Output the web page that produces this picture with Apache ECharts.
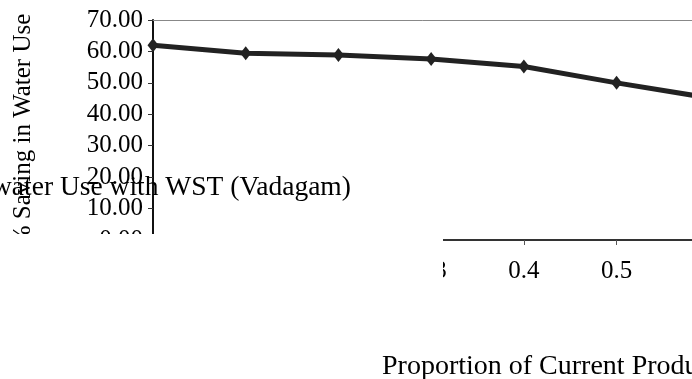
<!DOCTYPE html>
<html>
<head>
<meta charset="utf-8">
<script src="https://cdn.jsdelivr.net/npm/echarts@6/dist/echarts.min.js"></script>
<style>
  html, body { margin: 0; padding: 0; background: #fff; }
  #chart { width: 692px; height: 379px; }
</style>
</head>
<body>
<div id="chart"></div>
<script>
// Proportion of current production (x) and % saving in water use (y)
const proportions = [0, 0.1, 0.2, 0.3, 0.4, 0.5, 0.6];
const savingPct = [62.0, 59.4, 58.9, 57.6, 55.2, 50.0, 45.2];

const titleText = 'water Use with WST (Vadagam)';
const xAxisTitle = 'Proportion of Current Production';
const yAxisTitle = '% Saving in Water Use';

const serif = '"Liberation Serif", "DejaVu Serif", serif';

const chart = echarts.init(document.getElementById('chart'), null, { renderer: 'canvas' });

chart.setOption({
  animation: false,
  backgroundColor: '#fff',
  title: {
    text: titleText,
    left: -8,
    top: 174,
    padding: 0,
    textStyle: { fontFamily: serif, fontSize: 27.5, fontWeight: 'normal', color: '#000' }
  },
  grid: {
    left: 153, top: 20, right: -110, bottom: 139,
    containLabel: false,
    outerBoundsMode: 'none'
  },
  xAxis: [
    {
      type: 'value',
      min: 0,
      max: 0.7,
      interval: 0.1,
      position: 'bottom',
      axisLine: { show: true, onZero: false, lineStyle: { color: '#333', width: 2 } },
      axisTick: { show: true, length: 5, lineStyle: { color: '#555', width: 1 } },
      axisLabel: { margin: 19, fontFamily: serif, fontSize: 25, color: '#000' },
      splitLine: { show: false }
    },
    {
      // thin frame line along the top of the plot
      type: 'value',
      min: 0,
      max: 0.7,
      position: 'top',
      axisLine: { show: true, onZero: false, lineStyle: { color: '#888', width: 1 } },
      axisTick: { show: false },
      axisLabel: { show: false },
      splitLine: { show: false }
    }
  ],
  yAxis: {
    type: 'value',
    min: 0,
    max: 70,
    interval: 10,
    axisLine: { show: true, lineStyle: { color: '#111', width: 2 } },
    axisTick: { show: true, length: 5, lineStyle: { color: '#333', width: 1 } },
    axisLabel: {
      margin: 10,
      fontFamily: serif,
      fontSize: 25,
      color: '#000',
      formatter: v => v.toFixed(2)
    },
    splitLine: { show: false },
    name: yAxisTitle,
    nameLocation: 'middle',
    nameRotate: 90,
    nameGap: 117,
    nameTextStyle: { fontFamily: serif, fontSize: 25, color: '#000' }
  },
  series: [
    {
      type: 'line',
      xAxisIndex: 0,
      data: proportions.map((p, i) => [p, savingPct[i]]),
      symbol: 'diamond',
      symbolSize: [11, 14],
      lineStyle: { color: '#222', width: 5 },
      itemStyle: { color: '#222' },
      clip: false
    }
  ],
  graphic: [
    {
      type: 'rect',
      left: 0,
      top: 234,
      shape: { width: 443, height: 70 },
      style: { fill: '#fff' },
      z: 100
    },
    {
      type: 'text',
      left: 382,
      top: 353,
      style: { text: xAxisTitle, font: '28px ' + serif, fill: '#000' },
      z: 100
    }
  ]
});
</script>
</body>
</html>
